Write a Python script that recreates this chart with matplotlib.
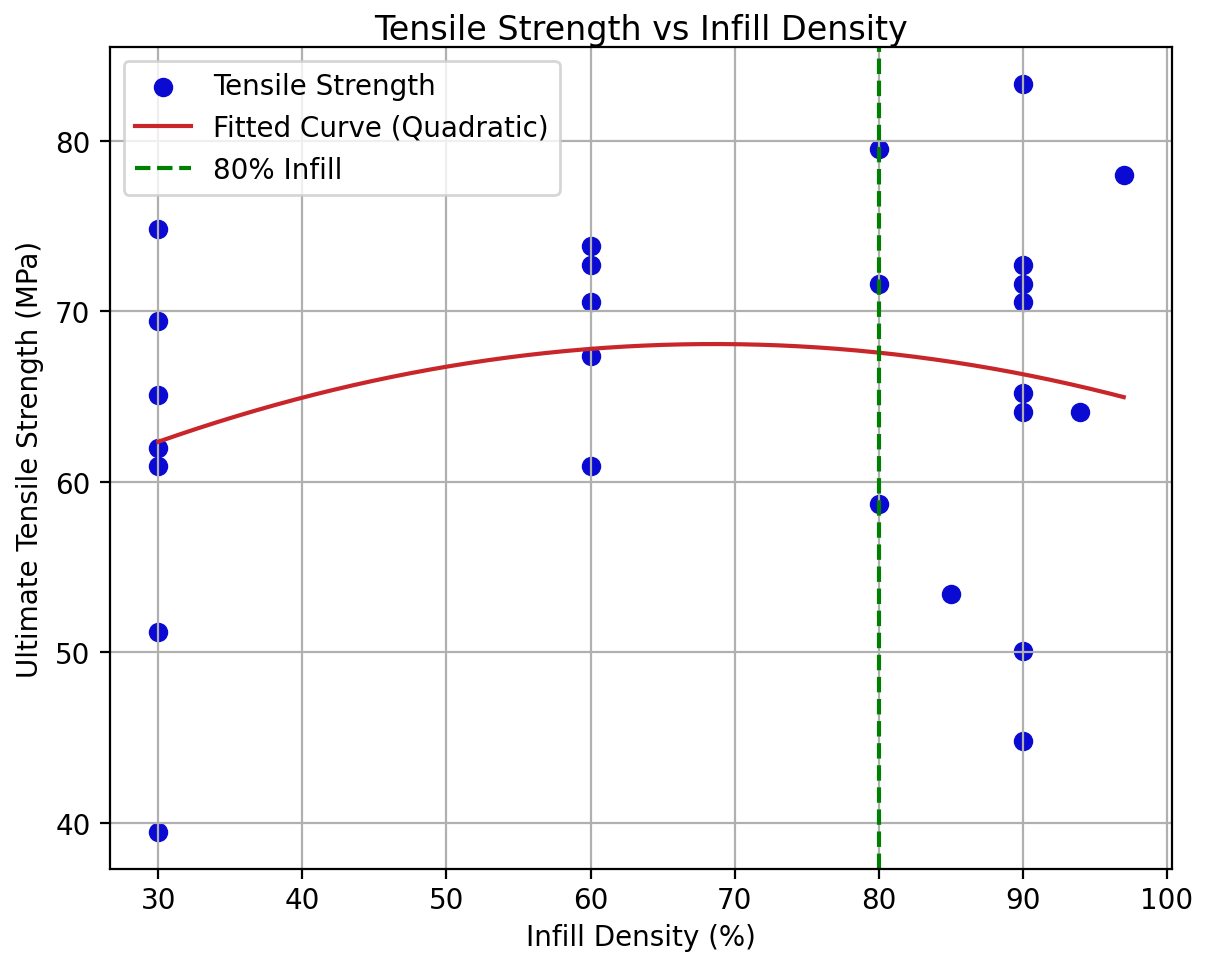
import numpy as np
import matplotlib.pyplot as plt

infill = [30, 30, 30, 30, 30, 30, 30,
          60, 60, 60, 60, 60,
          80, 80, 80,
          85,
          90, 90, 90, 90, 90, 90, 90, 90,
          94, 97]
strength = [74.8, 69.4, 65.1, 62.0, 60.9, 51.2, 39.5,
            73.8, 72.7, 70.55, 67.35, 60.9,
            79.5, 71.6, 58.7,
            53.4,
            83.3, 72.7, 71.6, 70.55, 65.2, 64.1, 50.1, 44.8,
            64.1, 78.0]

# quadratic fit coefficients (a, b, c)
fit_coef = [-0.00385, 0.528, 49.975]

x = np.array(infill, dtype=float)
y = np.array(strength)

x_fit = np.linspace(x.min(), x.max(), 200)
y_fit = np.polyval(fit_coef, x_fit)

fig = plt.figure(figsize=(6.03, 4.77), dpi=200)
fig.subplots_adjust(left=0.0912, right=0.9718, top=0.9497, bottom=0.0881)

plt.scatter(x, y, color="#0a0ad2", label="Tensile Strength")
plt.plot(x_fit, y_fit, color="#c8262a", label="Fitted Curve (Quadratic)")
plt.axvline(80, color="green", linestyle="--", label="80% Infill")

plt.title("Tensile Strength vs Infill Density", pad=3)
plt.xlabel("Infill Density (%)", labelpad=3.5)
plt.ylabel("Ultimate Tensile Strength (MPa)")
plt.tick_params(axis="x", pad=2.5)
plt.grid(True)
plt.legend(loc="upper left")

plt.savefig("out.png", dpi=200)
